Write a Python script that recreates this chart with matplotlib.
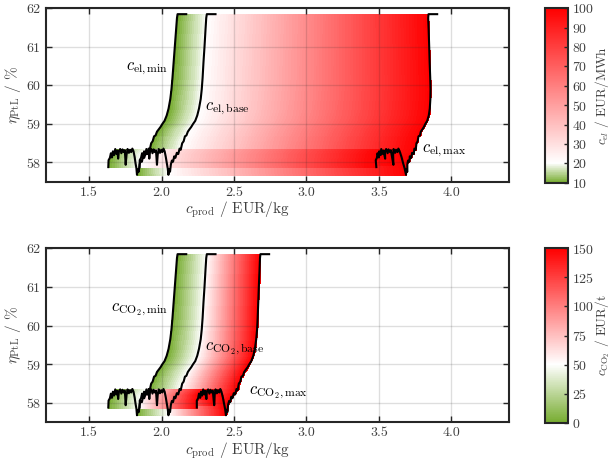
import numpy as np
import matplotlib
matplotlib.use('Agg')
import matplotlib.pyplot as plt
from matplotlib.colors import LinearSegmentedColormap, Normalize

plt.rcParams['font.family'] = 'serif'
plt.rcParams['font.serif'] = ['cmr10']
plt.rcParams['mathtext.fontset'] = 'cm'
plt.rcParams['axes.formatter.use_mathtext'] = True
plt.rcParams['font.size'] = 10

# efficiency along the operating path (same path for every curve)
eta = [57.88, 58.06, 58.12, 58.24, 58.13, 58.29, 58.19, 58.35, 58.22, 58.31,
       58.10, 58.28, 58.35, 58.24, 58.34, 58.27, 58.32, 57.94, 58.20, 58.35,
       58.25, 58.33, 58.27, 58.36, 58.29, 58.14, 57.98, 57.85, 57.68, 57.82,
       57.76, 57.95, 58.05, 58.02, 58.16, 58.12, 58.25, 58.22, 58.36, 58.33,
       58.50, 58.55, 58.68, 58.70, 58.80, 58.86, 58.92, 59.00, 59.08, 59.22,
       59.40, 59.65, 59.90, 60.20, 60.60, 61.00, 61.45, 61.75, 61.85, 61.85]

# production cost, lowest price case (c_el = 10 / c_CO2 = 0)
cprod_min = [1.632, 1.634, 1.643, 1.650, 1.657, 1.664, 1.672, 1.680, 1.688, 1.695,
             1.700, 1.705, 1.714, 1.722, 1.730, 1.738, 1.746, 1.752, 1.758, 1.765,
             1.774, 1.782, 1.790, 1.798, 1.806, 1.814, 1.820, 1.826, 1.830, 1.836,
             1.842, 1.848, 1.856, 1.864, 1.872, 1.880, 1.890, 1.900, 1.910, 1.918,
             1.928, 1.938, 1.948, 1.958, 1.968, 1.980, 1.992, 2.005, 2.020, 2.035,
             2.048, 2.060, 2.068, 2.075, 2.083, 2.091, 2.100, 2.106, 2.110, 2.170]

# base case
cprod_base = [1.848, 1.849, 1.858, 1.865, 1.872, 1.879, 1.887, 1.895, 1.903, 1.910,
              1.915, 1.920, 1.929, 1.937, 1.945, 1.953, 1.961, 1.968, 1.973, 1.980,
              1.989, 1.997, 2.005, 2.013, 2.021, 2.029, 2.036, 2.042, 2.047, 2.052,
              2.058, 2.064, 2.071, 2.079, 2.087, 2.095, 2.105, 2.115, 2.124, 2.132,
              2.142, 2.152, 2.161, 2.171, 2.181, 2.192, 2.204, 2.217, 2.232, 2.246,
              2.258, 2.270, 2.277, 2.283, 2.289, 2.296, 2.303, 2.308, 2.312, 2.372]

# highest electricity price (100 EUR/MWh)
cprod_el_max = [3.482, 3.478, 3.486, 3.490, 3.499, 3.502, 3.512, 3.516, 3.527, 3.531,
                3.543, 3.542, 3.550, 3.560, 3.566, 3.576, 3.582, 3.600, 3.598, 3.601,
                3.612, 3.618, 3.628, 3.634, 3.643, 3.656, 3.667, 3.677, 3.687, 3.688,
                3.696, 3.696, 3.701, 3.710, 3.713, 3.723, 3.729, 3.740, 3.745, 3.754,
                3.759, 3.767, 3.773, 3.783, 3.789, 3.800, 3.810, 3.820, 3.833, 3.844,
                3.851, 3.855, 3.856, 3.854, 3.850, 3.847, 3.843, 3.840, 3.842, 3.902]

# highest CO2 price (150 EUR/t)
cprod_co2_max = [2.243, 2.243, 2.252, 2.258, 2.266, 2.272, 2.280, 2.287, 2.296, 2.302,
                 2.309, 2.312, 2.321, 2.330, 2.337, 2.345, 2.353, 2.363, 2.366, 2.372,
                 2.382, 2.389, 2.398, 2.405, 2.413, 2.423, 2.431, 2.438, 2.444, 2.448,
                 2.454, 2.459, 2.466, 2.474, 2.481, 2.489, 2.498, 2.508, 2.517, 2.525,
                 2.533, 2.543, 2.551, 2.561, 2.570, 2.581, 2.593, 2.605, 2.619, 2.633,
                 2.644, 2.653, 2.659, 2.663, 2.667, 2.671, 2.676, 2.679, 2.682, 2.742]

el_prices = [10, 20, 100]      # min, base, max
co2_prices = [0, 50, 150]
el_ticks = [10, 20, 30, 40, 50, 60, 70, 80, 90, 100]
co2_ticks = [0, 25, 50, 75, 100, 125, 150]
x_ticks = [1.5, 2.0, 2.5, 3.0, 3.5, 4.0]
y_ticks = [58, 59, 60, 61, 62]

GREEN = '#77AC30'
DARK = '#262626'
LABEL = '#404040'

fig = plt.figure(figsize=(6.11, 4.66), dpi=100)


def draw_panel(ax, cax, x_max, prices, ticks, cb_label, names, name_pos):
    lo, mid, hi = prices
    cmap = LinearSegmentedColormap.from_list(
        'gwr', [(0, GREEN), ((mid - lo) / (hi - lo), 'white'), (1, 'red')])
    norm = Normalize(lo, hi)

    # colour ramp between the three curves, one row per path point
    # (rows drawn from the end of the path back to its start)
    c_grid = np.concatenate([np.linspace(lo, mid, 16), np.linspace(mid, hi, 81)[1:]])
    X = np.array([np.interp(c_grid, prices, [a, b, c])
                  for a, b, c in zip(cprod_min, cprod_base, x_max)])[::-1]
    Y = np.tile(np.array(eta)[::-1, None], (1, len(c_grid)))
    c_mid = 0.5 * (c_grid[:-1] + c_grid[1:])
    C = np.tile(c_mid, (len(eta) - 1, 1))
    mesh = ax.pcolormesh(X, Y, C, shading='flat', cmap=cmap, norm=norm,
                         edgecolors='face', linewidth=0.4, antialiased=False,
                         zorder=1)

    for xs in (cprod_min, cprod_base, x_max):
        ax.plot(xs, eta, color='k', lw=1.5, zorder=3)

    for txt, (tx, ty) in zip(names, name_pos):
        ax.text(tx, ty, txt, fontsize=12, ha='left', va='baseline', zorder=4)

    ax.set_xlim(1.2, 4.4)
    ax.set_ylim(57.5, 62)
    ax.set_xticks(x_ticks)
    ax.set_xticklabels(['1.5', '2.0', '2.5', '3.0', '3.5', '4.0'])
    ax.set_yticks(y_ticks)
    ax.grid(True, color=DARK, alpha=0.15, lw=1.0)
    ax.tick_params(direction='in', top=True, right=True, length=4, width=1,
                   colors=DARK, labelsize=10, labelcolor=LABEL)
    for s in ax.spines.values():
        s.set_linewidth(1.5)
        s.set_color(DARK)
    ax.set_xlabel(r'$c_{\mathrm{prod}}$ / EUR/kg', color=LABEL, fontsize=11)
    ax.xaxis.set_label_coords(0.414, -0.105)
    ax.set_ylabel(r'$\eta_{\mathrm{PtL}}$ / %', color=LABEL, fontsize=11)
    ax.yaxis.set_label_coords(-0.048, 0.5)

    cb = fig.colorbar(mesh, cax=cax, ticks=ticks)
    cb.outline.set_linewidth(1.5)
    cb.outline.set_edgecolor(DARK)
    cb.ax.tick_params(direction='in', length=3, width=1, colors=DARK,
                      labelsize=10, labelcolor=LABEL, pad=3)
    cb.set_label(cb_label, color=LABEL, fontsize=9.5)
    cb.ax.yaxis.set_label_coords(2.08, 0.5)


ax1 = fig.add_axes([0.0748, 0.610, 0.7588, 0.372])
cax1 = fig.add_axes([0.892, 0.608, 0.038, 0.374])
draw_panel(ax1, cax1, cprod_el_max, el_prices, el_ticks,
           r'$c_{el}$ / EUR/MWh',
           [r'$c_{\mathrm{el,min}}$', r'$c_{\mathrm{el,base}}$', r'$c_{\mathrm{el,max}}$'],
           [(1.755, 60.40), (2.30, 59.36), (3.795, 58.28)])

ax2 = fig.add_axes([0.0748, 0.094, 0.7588, 0.373])
cax2 = fig.add_axes([0.892, 0.093, 0.038, 0.374])
draw_panel(ax2, cax2, cprod_co2_max, co2_prices, co2_ticks,
           r'$c_{\mathrm{CO}_2}$ / EUR/t',
           [r'$c_{\mathrm{CO}_2\mathrm{,min}}$', r'$c_{\mathrm{CO}_2\mathrm{,base}}$',
            r'$c_{\mathrm{CO}_2\mathrm{,max}}$'],
           [(1.652, 60.38), (2.30, 59.37), (2.606, 58.24)])

fig.savefig('out.png', dpi=100)
